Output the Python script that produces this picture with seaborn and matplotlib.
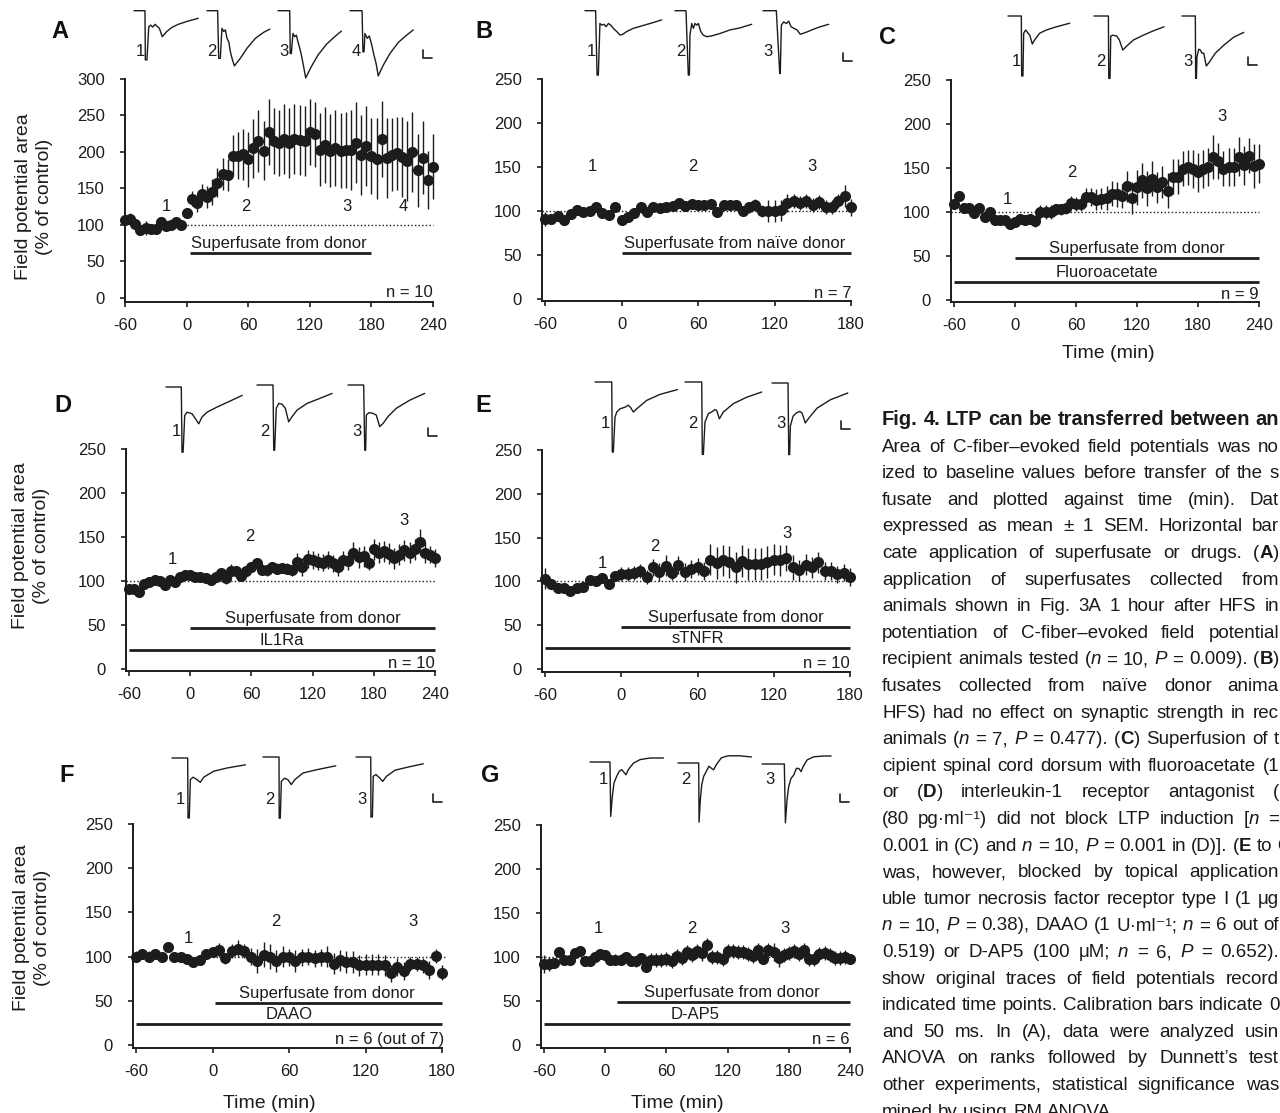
import numpy as np
import pandas as pd
import matplotlib
matplotlib.use("Agg")
import matplotlib.pyplot as plt
import matplotlib.transforms as mtransforms
import seaborn as sns

# ------------------------------------------------------------------ data
TIME_240 = np.arange(-60, 241, 5)   # minutes, panels A, C, D, G
TIME_180 = np.arange(-60, 181, 5)   # minutes, panels B, E, F

A_MEAN = [107, 108, 102, 93, 96, 94, 94, 104, 98, 100, 104, 100,
          117, 136, 130, 143, 138, 145, 158, 170, 168, 195, 195, 197, 190, 205, 215,
          202, 227, 215, 212, 218, 212, 218, 217, 215, 227, 224, 203, 210, 202, 205,
          202, 203, 203, 213, 196, 208, 195, 191, 218, 192, 196, 198, 193, 188, 200,
          175, 192, 162, 180]
A_SEM = [6, 8, 5, 7, 10, 6, 5, 5, 5, 4, 4, 5,
         6, 10, 12, 13, 15, 18, 20, 22, 22, 28, 32, 35, 38, 40, 42, 40, 45, 45, 45,
         48, 48, 48, 48, 48, 45, 45, 50, 52, 50, 52, 52, 52, 55, 55, 55, 55, 52, 55,
         52, 55, 50, 50, 55, 55, 55, 50, 50, 40, 45]

B_MEAN = [91, 91, 94, 90, 97, 101, 99, 100, 105, 98, 95, 104, 90, 93, 98, 104, 99,
          104, 103, 104, 106, 109, 106, 108, 107, 107, 108, 99, 107, 107, 107, 100,
          104, 107, 100, 100, 100, 101, 109, 111, 109, 111, 107, 110, 105, 105, 111,
          117, 104]
B_SEM = [8, 6, 5, 6, 5, 4, 4, 4, 4, 4, 4, 4, 5, 5, 5, 6, 6, 5, 5, 5, 5, 6, 5, 6, 6,
         6, 6, 5, 6, 6, 6, 6, 6, 7, 7, 12, 12, 12, 10, 8, 8, 8, 8, 8, 8, 8, 8, 12, 10]

C_MEAN = [109, 118, 105, 105, 99, 104, 94, 100, 91, 91, 91, 86, 89, 92, 91, 92, 90,
          100, 100, 100, 103, 103, 104, 110, 109, 109, 117, 117, 114, 115, 116, 121,
          120, 118, 129, 116, 128, 136, 127, 138, 128, 134, 124, 140, 140, 149, 151,
          149, 145, 149, 151, 162, 158, 149, 151, 151, 163, 153, 164, 152, 155]
C_SEM = [3, 3, 3, 3, 3, 3, 3, 3, 4, 4, 4, 5, 5, 5, 6, 6, 7, 8, 8, 8, 6, 6, 6, 8, 8,
         8, 10, 10, 12, 12, 14, 14, 14, 14, 18, 18, 20, 20, 20, 20, 18, 18, 20, 20,
         20, 20, 20, 22, 22, 22, 22, 25, 20, 20, 22, 22, 22, 22, 20, 25, 22]

D_MEAN = [91, 91, 87, 97, 99, 101, 100, 96, 101, 99, 104, 107, 107, 105, 104, 103,
          101, 104, 109, 103, 111, 111, 106, 111, 116, 120, 113, 112, 116, 114, 115,
          114, 112, 122, 116, 125, 124, 122, 121, 124, 120, 116, 124, 123, 132, 127,
          128, 121, 136, 132, 134, 131, 126, 130, 135, 132, 136, 144, 132, 130, 126]
D_SEM = [3, 3, 3, 3, 3, 3, 3, 3, 3, 3, 3, 3, 3, 4, 4, 4, 4, 4, 6, 6, 8, 6, 6, 6, 6,
         6, 6, 6, 6, 6, 6, 6, 6, 10, 10, 10, 10, 10, 10, 10, 10, 10, 10, 10, 12, 12,
         12, 8, 12, 12, 12, 12, 12, 12, 12, 12, 12, 15, 12, 10, 10]

E_MEAN = [103, 97, 92, 93, 89, 93, 94, 102, 100, 104, 97, 106, 109, 108, 110, 112,
          105, 116, 111, 118, 110, 119, 111, 114, 117, 112, 125, 121, 124, 122, 116,
          123, 120, 120, 120, 122, 125, 124, 127, 116, 113, 119, 116, 122, 112, 112,
          108, 110, 105]
E_SEM = [12, 5, 5, 4, 4, 4, 4, 4, 4, 4, 4, 5, 8, 8, 8, 8, 8, 10, 10, 12, 8, 10, 10,
         10, 10, 10, 18, 18, 18, 18, 18, 18, 18, 18, 18, 18, 18, 18, 15, 14, 12, 12,
         12, 12, 10, 10, 10, 10, 10]

F_MEAN = [100, 103, 100, 103, 100, 111, 99, 99, 97, 94, 96, 103, 105, 107, 98, 106,
          109, 106, 100, 95, 102, 100, 95, 100, 99, 95, 99, 100, 98, 99, 100, 92, 96,
          94, 94, 90, 91, 91, 91, 90, 81, 88, 84, 92, 92, 90, 85, 101, 82]
F_SEM = [6, 6, 6, 6, 4, 4, 4, 4, 4, 5, 6, 6, 6, 8, 6, 8, 10, 8, 10, 14, 14, 14, 12,
         12, 10, 12, 10, 10, 10, 10, 12, 12, 12, 12, 12, 12, 12, 12, 12, 12, 10, 10,
         10, 8, 8, 8, 10, 8, 8]

G_MEAN = [92, 92, 93, 106, 97, 97, 104, 107, 95, 95, 100, 103, 102, 97, 97, 97, 100,
          96, 95, 99, 89, 97, 97, 97, 98, 96, 101, 99, 106, 102, 107, 104, 114, 100,
          100, 98, 107, 107, 106, 106, 103, 101, 108, 98, 108, 106, 99, 102, 105, 107,
          103, 108, 98, 98, 103, 105, 102, 99, 99, 100, 98]
G_SEM = [10, 8, 6, 4, 4, 4, 4, 4, 4, 4, 4, 4, 4, 6, 6, 6, 6, 6, 6, 6, 6, 8, 8, 8, 8,
         8, 8, 8, 8, 8, 8, 8, 8, 8, 8, 8, 8, 8, 8, 8, 8, 8, 8, 6, 8, 10, 10, 8, 8, 8,
         8, 8, 8, 8, 8, 8, 8, 8, 8, 8, 5]

Y_TICKS_300 = [0, 50, 100, 150, 200, 250, 300]
Y_TICKS_250 = [0, 50, 100, 150, 200, 250]
X_TICKS_240 = [-60, 0, 60, 120, 180, 240]
X_TICKS_180 = [-60, 0, 60, 120, 180]

# application bars: (label, start min, end min, level %, label centre min)
BARS_A = [("Superfusate from donor", 3, 180, 62, 90)]
BARS_B = [("Superfusate from naïve donor", 0, 180, 52, 89)]
BARS_C = [("Superfusate from donor", 0, 240, 47.5, 120), ("Fluoroacetate", -60, 240, 20.5, 90)]
BARS_D = [("Superfusate from donor", 0, 240, 46.5, 120), ("IL1Ra", -60, 240, 21.5, 90)]
BARS_E = [("Superfusate from donor", 0, 180, 47.5, 90), ("sTNFR", -60, 180, 24, 60)]
BARS_F = [("Superfusate from donor", 2, 180, 47.5, 90), ("DAAO", -60, 180, 24, 60)]
BARS_G = [("Superfusate from donor", 12, 240, 48.5, 124), ("D-AP5", -60, 240, 24, 88)]

# time-point markers (label, min, %)
MARKS_A = [("1", -20, 126), ("2", 58, 126), ("3", 156, 126), ("4", 211, 126)]
MARKS_B = [("1", -23, 150), ("2", 56, 150), ("3", 149, 150)]
MARKS_C = [("1", -8, 114), ("2", 56, 145), ("3", 204, 208)]
MARKS_D = [("1", -18, 124), ("2", 58, 150), ("3", 210, 169)]
MARKS_E = [("1", -15, 120), ("2", 26, 140), ("3", 130, 155)]
MARKS_F = [("1", -19, 120), ("2", 50, 140), ("3", 157, 140)]
MARKS_G = [("1", -7, 132), ("2", 85, 132), ("3", 176, 132)]

N_LABELS = {"A": "n = 10", "B": "n = 7", "C": "n = 9", "D": "n = 10",
            "E": "n = 10", "F": "n = 6 (out of 7)", "G": "n = 6"}

# example field-potential traces: (time ms, potential mV)
TRACES_A = [
    ([0, 61, 63, 72, 82, 93, 104, 117, 130, 141, 157, 182, 210, 246, 293, 357],
     [0, 0, -1.23, -1.23, -0.40, -0.36, -0.41, -0.34, -0.40, -0.44, -0.65, -0.52, -0.42, -0.34, -0.27, -0.19]),
    ([0, 59, 65, 74, 83, 93, 102, 111, 121, 130, 139, 152, 185, 222, 269, 315, 349],
     [0, 0, -1.19, -1.19, -0.44, -0.52, -0.48, -0.69, -0.78, -1.03, -1.19, -1.38, -1.19, -0.94, -0.69, -0.54, -0.46]),
    ([0, 65, 68, 74, 83, 93, 102, 111, 121, 130, 139, 154, 185, 222, 269, 315, 352],
     [0, 0, -1.07, -1.07, -0.57, -0.65, -0.61, -0.78, -0.94, -1.11, -1.32, -1.68, -1.40, -1.11, -0.84, -0.65, -0.51]),
    ([0, 67, 72, 78, 83, 96, 107, 121, 133, 145, 157, 185, 222, 269, 315, 352],
     [0, 0, -1.03, -1.03, -0.57, -0.69, -0.63, -0.86, -1.11, -1.32, -1.63, -1.36, -1.07, -0.79, -0.61, -0.48]),
]
TRACES_B = [
    ([0, 59, 67, 74, 83, 93, 106, 117, 130, 143, 157, 176, 195, 210, 232, 269, 315, 361, 426],
     [0, 0, -1.61, -1.61, -0.32, -0.36, -0.34, -0.40, -0.32, -0.36, -0.44, -0.52, -0.61, -0.59, -0.52, -0.44, -0.38, -0.32, -0.23]),
    ([0, 61, 74, 80, 83, 93, 102, 111, 121, 130, 143, 157, 176, 204, 250, 306, 361, 426],
     [0, 0, -1.61, -1.61, -0.61, -0.32, -0.44, -0.32, -0.36, -0.32, -0.52, -0.61, -0.65, -0.63, -0.57, -0.48, -0.43, -0.34]),
    ([0, 74, 93, 96, 102, 115, 130, 143, 156, 171, 189, 207, 245, 282, 319, 365],
     [0, 0, -1.57, -1.57, -0.36, -0.28, -0.32, -0.26, -0.40, -0.44, -0.48, -0.59, -0.53, -0.46, -0.40, -0.34]),
]
TRACES_C = [
    ([0, 74, 76, 83, 87, 98, 111, 121, 135, 148, 176, 213, 269, 343],
     [0, 0, -1.5, -1.5, -0.43, -0.35, -0.43, -0.48, -0.70, -0.60, -0.43, -0.35, -0.27, -0.18]),
    ([0, 80, 82, 89, 93, 104, 126, 141, 160, 182, 219, 274, 330, 389],
     [0, 0, -1.56, -1.56, -0.50, -0.48, -0.50, -0.60, -0.85, -0.75, -0.60, -0.48, -0.37, -0.27]),
    ([0, 74, 76, 80, 83, 93, 102, 111, 121, 135, 154, 185, 232, 287, 343],
     [0, 0, -1.56, -1.56, -1.02, -0.83, -0.85, -0.93, -0.93, -1.25, -1.14, -0.93, -0.73, -0.53, -0.41]),
]
TRACES_D = [
    ([0, 85, 89, 95, 104, 117, 132, 145, 163, 182, 200, 228, 284, 357, 423],
     [0, 0, -1.63, -1.63, -0.71, -0.63, -0.65, -0.67, -0.79, -0.92, -0.75, -0.63, -0.50, -0.35, -0.21]),
    ([0, 89, 93, 98, 107, 121, 139, 157, 176, 195, 222, 278, 352, 417],
     [0, 0, -1.63, -1.63, -0.58, -0.46, -0.48, -0.58, -0.92, -0.79, -0.63, -0.46, -0.33, -0.21]),
    ([0, 87, 93, 98, 102, 117, 139, 157, 176, 195, 222, 269, 343, 426],
     [0, 0, -1.63, -1.63, -0.75, -0.69, -0.71, -0.75, -1.04, -0.96, -0.79, -0.58, -0.38, -0.21]),
]
TRACES_E = [
    ([0, 93, 96, 102, 111, 121, 139, 167, 185, 198, 213, 232, 287, 361, 458],
     [0, 0, -1.75, -1.75, -0.88, -0.75, -0.67, -0.63, -0.58, -0.64, -0.75, -0.67, -0.46, -0.31, -0.19]),
    ([0, 93, 96, 102, 111, 130, 148, 167, 176, 191, 213, 269, 343, 426],
     [0, 0, -1.81, -1.81, -1.0, -0.79, -0.75, -0.69, -0.71, -0.92, -0.75, -0.54, -0.38, -0.25]),
    ([0, 89, 93, 98, 102, 117, 135, 154, 167, 185, 204, 250, 324, 421],
     [0, 0, -1.79, -1.79, -1.08, -0.83, -0.75, -0.71, -0.75, -1.0, -0.88, -0.63, -0.42, -0.25]),
]
TRACES_F = [
    ([0, 87, 89, 96, 102, 117, 139, 157, 176, 232, 306, 408],
     [0, 0, -1.5, -1.5, -0.54, -0.48, -0.54, -0.61, -0.48, -0.33, -0.25, -0.17]),
    ([0, 89, 90, 96, 102, 120, 139, 157, 176, 222, 296, 404],
     [0, 0, -1.53, -1.53, -0.61, -0.53, -0.57, -0.69, -0.57, -0.40, -0.32, -0.22]),
    ([0, 82, 83, 91, 96, 111, 133, 148, 170, 217, 291, 374],
     [0, 0, -1.5, -1.5, -0.48, -0.44, -0.53, -0.61, -0.48, -0.33, -0.25, -0.17]),
]
TRACES_G = [
    ([0, 111, 115, 124, 133, 148, 163, 176, 189, 200, 213, 241, 278, 334, 408],
     [0, 0, -1.36, -0.86, -0.53, -0.36, -0.23, -0.19, -0.26, -0.32, -0.19, -0.03, 0.06, 0.10, 0.10]),
    ([0, 115, 117, 124, 132, 143, 157, 172, 185, 198, 213, 241, 278, 343, 408],
     [0, 0, -1.48, -0.92, -0.54, -0.33, -0.21, -0.08, -0.13, -0.17, -0.04, 0.13, 0.18, 0.18, 0.15]),
    ([0, 124, 130, 139, 148, 161, 176, 191, 204, 217, 228, 250, 287, 343, 384],
     [0, 0, -1.47, -0.90, -0.57, -0.36, -0.28, -0.11, -0.11, -0.19, -0.07, 0.10, 0.18, 0.20, 0.20]),
]
CAL_MS, CAL_MV = 50, 0.2   # calibration bar

CAPTION_TITLE = "Fig. 4. LTP can be transferred between an"
CAPTION_LINES = [
    "Area of C-fiber–evoked field potentials was no",
    "ized to baseline values before transfer of the s",
    "fusate and plotted against time (min). Dat",
    "expressed as mean ± 1 SEM. Horizontal bar",
    "cate application of superfusate or drugs. (*A*)",
    "application of superfusates collected from",
    "animals shown in Fig. 3A 1 hour after HFS in",
    "potentiation of C-fiber–evoked field potential",
    "recipient animals tested (_n_ = 10, _P_ = 0.009). (*B*)",
    "fusates collected from naïve donor anima",
    "HFS) had no effect on synaptic strength in rec",
    "animals (_n_ = 7, _P_ = 0.477). (*C*) Superfusion of t",
    "cipient spinal cord dorsum with fluoroacetate (1",
    "or (*D*) interleukin-1 receptor antagonist (",
    "(80 pg·ml⁻¹) did not block LTP induction [_n_ =",
    "0.001 in (C) and _n_ = 10, _P_ = 0.001 in (D)]. (*E* to *G*",
    "was, however, blocked by topical application",
    "uble tumor necrosis factor receptor type I (1 μg",
    "_n_ = 10, _P_ = 0.38), DAAO (1 U·ml⁻¹; _n_ = 6 out of",
    "0.519) or D-AP5 (100 μM; _n_ = 6, _P_ = 0.652).",
    "show original traces of field potentials record",
    "indicated time points. Calibration bars indicate 0",
    "and 50 ms. In (A), data were analyzed usin",
    "ANOVA on ranks followed by Dunnett’s test",
    "other experiments, statistical significance was",
    "mined by using RM ANOVA.",
]

# ------------------------------------------------------------------ style
sns.set_theme(style="ticks")
BASE_FONT = ["Liberation Sans", "DejaVu Sans"]
NARROW_FONT = ["Liberation Sans Narrow", "Liberation Sans", "DejaVu Sans"]
plt.rcParams["font.family"] = BASE_FONT
plt.rcParams["axes.unicode_minus"] = False
INK = "#1c1c1c"

W, H = 1280, 1113
fig = plt.figure(figsize=(W / 100, H / 100), dpi=100)
fig.patch.set_facecolor("white")


def px_rect(l, t, r, b):
    return [l / W, 1 - b / H, (r - l) / W, (b - t) / H]


def ftext(x, y, s, **kw):
    return fig.text(x / W, 1 - y / H, s, **kw)


def draw_panel(rect, xlim, ylim, xticks, yticks, times, mean, sem, bars, marks,
               nlabel, dotted_from, dotted_to):
    ax = fig.add_axes(px_rect(*rect))
    df = pd.DataFrame({"time": times, "area": mean, "sem": sem})
    ax.vlines(df["time"], df["area"] - df["sem"], df["area"] + df["sem"],
              color=INK, lw=1.0, zorder=2, clip_on=False)
    sns.scatterplot(data=df, x="time", y="area", ax=ax, s=64, color=INK,
                    edgecolor=INK, linewidth=0, zorder=3, clip_on=False, legend=False)
    ax.hlines(100, dotted_from, dotted_to, colors=INK, lw=1.0,
              linestyles=(0, (1, 1.6)), zorder=1, clip_on=False)
    lift = mtransforms.offset_copy(ax.transData, fig=fig, y=5, units="dots")
    for label, x0, x1, lev, xc in bars:
        ax.hlines(lev, x0, x1, colors=INK, lw=2.0, clip_on=False)
        ax.text(xc, lev, label, transform=lift, ha="center", va="baseline",
                fontsize=12, color=INK)
    for label, xm, ym in marks:
        ax.text(xm, ym, label, ha="center", va="center", fontsize=12, color=INK)
    ax.text(xlim[1] + (1.5 if "out" in nlabel else 0), 1.5, nlabel, ha="right",
            va="baseline", fontsize=12, color=INK, clip_on=False)
    ax.set_xlim(*xlim)
    ax.set_ylim(*ylim)
    ax.set_xticks(xticks)
    ax.set_xticklabels([str(v) for v in xticks])
    ax.set_yticks(yticks)
    ax.set_yticklabels([str(v) for v in yticks])
    ax.set_xlabel("")
    ax.set_ylabel("")
    for side in ("top", "right"):
        ax.spines[side].set_visible(False)
    for side in ("left", "bottom"):
        ax.spines[side].set_color(INK)
        ax.spines[side].set_linewidth(1.4)
    ax.tick_params(axis="y", direction="out", length=3.5, width=1.2, pad=11,
                   labelsize=12, colors=INK)
    ax.tick_params(axis="x", direction="out", length=3.5, width=1.2, pad=8,
                   labelsize=12, colors=INK)
    ax.set_facecolor("none")
    return ax


MS_PER_PX = CAL_MS / 9.0
MV_PER_PX = CAL_MV / 8.0


def scaled_inset(left, base_y):
    ax = fig.add_axes(px_rect(left, base_y - 12, left + 90, base_y + 78))
    ax.set_xlim(0, 90 * MS_PER_PX)
    ax.set_ylim(-78 * MV_PER_PX, 12 * MV_PER_PX)
    ax.set_axis_off()
    return ax


def draw_traces(traces, positions, labels_xy, cal_corner):
    for (t, v), (lx, by), (tx, ty), num in zip(traces, positions, labels_xy,
                                              range(1, len(traces) + 1)):
        ax = scaled_inset(lx, by)
        ax.plot(t, v, color=INK, lw=1.0, clip_on=False)
        ftext(tx, ty, str(num), ha="center", va="center", fontsize=12, color=INK)
    cx, cy = cal_corner
    ax = scaled_inset(cx, cy)
    ax.plot([0, 0, CAL_MS], [CAL_MV, 0, 0], color=INK, lw=1.2, clip_on=False)


# ------------------------------------------------------------------ panels
draw_panel((125, 79, 433, 302), (-60, 240), (-5.5, 300), X_TICKS_240, Y_TICKS_300,
           TIME_240, A_MEAN, A_SEM, BARS_A, MARKS_A, N_LABELS["A"], 0, 240)
draw_panel((542, 79, 851, 301), (-62.4, 180), (-2.3, 250), X_TICKS_180, Y_TICKS_250,
           TIME_180, B_MEAN, B_SEM, BARS_B, MARKS_B, N_LABELS["B"], -62.4, 180)
draw_panel((951, 80, 1259, 302), (-63, 240), (-2.3, 250), X_TICKS_240, Y_TICKS_250,
           TIME_240, C_MEAN, C_SEM, BARS_C, MARKS_C, N_LABELS["C"], -63, 240)
draw_panel((126, 449, 435, 671), (-63, 240), (-2.3, 250), X_TICKS_240, Y_TICKS_250,
           TIME_240, D_MEAN, D_SEM, BARS_D, MARKS_D, N_LABELS["D"], -63, 240)
draw_panel((542, 450, 850, 672), (-62.4, 180), (-3.4, 250), X_TICKS_180, Y_TICKS_250,
           TIME_180, E_MEAN, E_SEM, BARS_E, MARKS_E, N_LABELS["E"], -62.4, 180)
draw_panel((133, 824, 442, 1048), (-62.4, 180), (-3.4, 250), X_TICKS_180, Y_TICKS_250,
           TIME_180, F_MEAN, F_SEM, BARS_F, MARKS_F, N_LABELS["F"], -62.4, 183)
draw_panel((541, 825, 850, 1048), (-63, 240), (-3.4, 250), X_TICKS_240, Y_TICKS_250,
           TIME_240, G_MEAN, G_SEM, BARS_G, MARKS_G, N_LABELS["G"], -63, 240)

# traces
draw_traces(TRACES_A, [(134, 10.7), (207, 10.7), (278, 10.7), (350, 10.7)],
            [(140, 52), (212, 52), (284, 52), (356, 52)], (423, 58))
draw_traces(TRACES_B, [(585, 10.7), (675, 10.7), (763, 10.7)],
            [(591, 52), (681, 52), (768, 52)], (843, 61))
draw_traces(TRACES_C, [(1008, 16), (1094, 16), (1182, 16)],
            [(1016, 61), (1101, 61), (1188, 61)], (1248, 65))
draw_traces(TRACES_D, [(166, 387), (257, 385), (348, 385)],
            [(176, 432), (265, 432), (357, 432)], (428, 436))
draw_traces(TRACES_E, [(595, 382), (685, 382), (772, 383)],
            [(605, 423), (693, 423), (781, 423)], (841, 429))
draw_traces(TRACES_F, [(172, 758), (263, 757), (356, 757)],
            [(180, 800), (270, 800), (362, 800)], (433, 802))
draw_traces(TRACES_G, [(590, 762), (678, 763), (762, 764)],
            [(603, 780), (686, 780), (770, 780)], (840, 802))

# panel letters
for letter, (x, y) in zip("ABCDEFG", [(60, 32), (484, 31), (887, 37), (63, 406),
                                       (483, 405), (67, 775), (490, 776)]):
    ftext(x, y, letter, ha="center", va="center", fontsize=17, fontweight="bold",
          family=NARROW_FONT, color="#111111")

# axis titles
YLAB = "Field potential area\n(% of control)"
for (x, y) in [(34, 197), (31, 546), (32, 928)]:
    ftext(x, y, YLAB, rotation=90, ha="center", va="center", fontsize=14,
          linespacing=1.3, color=INK)
for (x, y) in [(1108, 354), (269, 1103), (677, 1103)]:
    ftext(x, y, "Time (min)", ha="center", va="center", fontsize=14, color=INK)

# ------------------------------------------------------------------ caption
renderer = fig.canvas.get_renderer()
CAP_SIZE = 13.5
CAP_X, CAP_R = 882, 1279
CAP_BASE, CAP_STEP = 425, 26.6


def measure(s, bold=False, ital=False, family=BASE_FONT, size=CAP_SIZE):
    t = fig.text(0, 0, s, fontsize=size, fontweight="bold" if bold else "normal",
                 fontstyle="italic" if ital else "normal", family=family)
    w = t.get_window_extent(renderer).width
    t.remove()
    return w


def parse_words(line):
    words, cur, state = [], [], {"buf": "", "b": False, "i": False}

    def flush():
        if state["buf"]:
            cur.append((state["buf"], state["b"], state["i"]))
            state["buf"] = ""

    for ch in line:
        if ch == "*":
            flush(); state["b"] = not state["b"]
        elif ch == "_":
            flush(); state["i"] = not state["i"]
        elif ch == " ":
            flush()
            if cur:
                words.append(list(cur)); cur.clear()
        else:
            state["buf"] += ch
    flush()
    if cur:
        words.append(list(cur))
    return words


def draw_line(line, y, justify, family=BASE_FONT, size=CAP_SIZE, all_bold=False):
    words = parse_words(line)
    widths = []
    for w in words:
        widths.append(sum(measure(s, b or all_bold, i, family, size) for s, b, i in w))
    space = measure("a a", all_bold, False, family, size) - measure("aa", all_bold, False, family, size)
    gap = space
    if justify and len(words) > 1:
        gap = max(space, (CAP_R - CAP_X - sum(widths)) / (len(words) - 1))
    x = CAP_X
    for w, wd in zip(words, widths):
        xx = x
        for s, b, i in w:
            ftext(xx, y, s, ha="left", va="baseline", fontsize=size, family=family,
                  fontweight="bold" if (b or all_bold) else "normal",
                  fontstyle="italic" if i else "normal", color="#1a1a1a")
            xx += measure(s, b or all_bold, i, family, size)
        x += wd + gap


draw_line(CAPTION_TITLE, CAP_BASE, True, family=NARROW_FONT, size=14.5, all_bold=True)
for k, line in enumerate(CAPTION_LINES, start=1):
    draw_line(line, CAP_BASE + CAP_STEP * k, k < len(CAPTION_LINES))

fig.savefig("out.png", dpi=100, facecolor="white")
